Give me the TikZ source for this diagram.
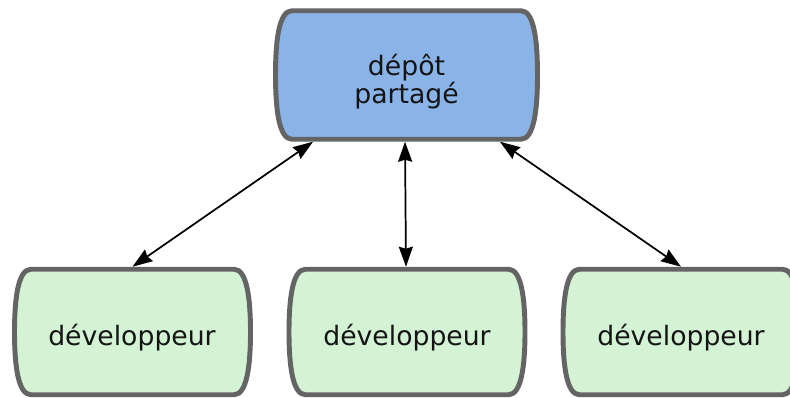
\documentclass[tikz,border=0pt]{standalone}
\usepackage{fontspec}
\setmainfont{DejaVu Sans}
\usetikzlibrary{arrows.meta,backgrounds,calc}
\definecolor{bluefill}{HTML}{8AB4E8}
\definecolor{greenfill}{HTML}{D3F3D4}
\definecolor{edgegray}{HTML}{646464}
\tikzset{
  holder/.style={draw=none, inner sep=0pt, outer sep=0pt, minimum width=#1},
  topholder/.style={holder=200.25pt, minimum height=100.1pt},
  devholder/.style={holder=180.75pt, minimum height=97.9pt},
  outline/.style={draw=edgegray, line width=3.7pt, line join=round},
  lbl/.style={inner sep=0pt, text=black!92, font=\fontsize{20}{16.5}\selectfont},
  conn/.style={line width=1.3pt, {Stealth[length=15pt,width=10.5pt,inset=1.5pt]}-{Stealth[length=15pt,width=10.5pt,inset=1.5pt]}}
}
\newcommand\bulgeoutline[2]{%
  \path[outline, fill=#2]
    ($(#1.north west)+(19,2.5)$) -- ($(#1.north east)+(-19,2.5)$)
    .. controls ($(#1.north east)+(-6,2.5)$) and ($(#1.north east)+(-2.5,32)$) .. ($(#1.east)+(-2.5,0)$)
    .. controls ($(#1.south east)+(-2.5,-32)$) and ($(#1.south east)+(-6,-2.5)$) .. ($(#1.south east)+(-19,-2.5)$)
    -- ($(#1.south west)+(19,-2.5)$)
    .. controls ($(#1.south west)+(6,-2.5)$) and ($(#1.south west)+(2.5,-32)$) .. ($(#1.west)+(2.5,0)$)
    .. controls ($(#1.north west)+(2.5,32)$) and ($(#1.north west)+(6,2.5)$) .. ($(#1.north west)+(19,2.5)$)
    -- cycle;}
\begin{document}
\begin{tikzpicture}[x=0.75pt, y=-0.75pt]
  \useasboundingbox (0,0) rectangle (790,398);
  \node[topholder] (repo) at (406.5,75) {};
  \node[devholder] (dev1) at (132.5,332) {};
  \node[devholder] (dev2) at (407,332) {};
  \node[devholder] (dev3) at (681,332) {};
  \begin{scope}[on background layer]
    \bulgeoutline{repo}{bluefill}
    \bulgeoutline{dev1}{greenfill}
    \bulgeoutline{dev2}{greenfill}
    \bulgeoutline{dev3}{greenfill}
  \end{scope}
  \node[lbl, align=center] (repolbl) at (406.5,81.8) {dépôt\\partagé};
  \node[lbl, anchor=base] (dev1lbl) at (132,345.7) {développeur};
  \node[lbl, anchor=base] (dev2lbl) at (407,345.7) {développeur};
  \node[lbl, anchor=base] (dev3lbl) at (681,345.7) {développeur};
  \draw[conn] ($(repo.south)+(-93.5,0)$) -- (dev1.north);
  \draw[conn] ($(repo.south)+(-1.5,0)$) -- ($(dev2.north)+(-1,0)$);
  \draw[conn] ($(repo.south)+(93.5,0)$) -- (dev3.north);
\end{tikzpicture}
\end{document}
